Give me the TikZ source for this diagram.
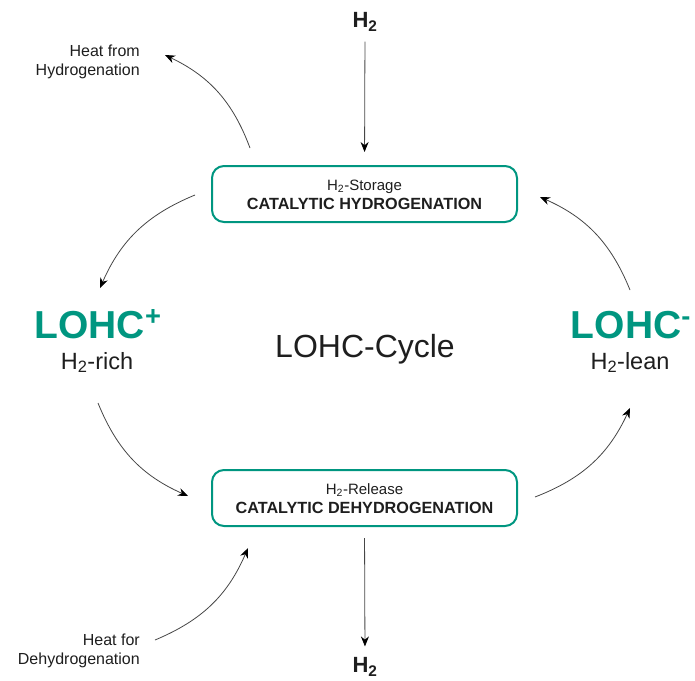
\documentclass[tikz,border=0pt]{standalone}
\usepackage{fontspec}
\setmainfont{Liberation Sans}
\usetikzlibrary{arrows.meta}
\definecolor{tealc}{RGB}{0,150,128}
\definecolor{txtc}{RGB}{30,30,30}
\definecolor{arrc}{RGB}{70,70,70}
\newcommand{\myfs}[1]{\fontsize{#1}{#1}\selectfont}
\begin{document}
\begin{tikzpicture}[x=1pt,y=-1pt,
  procbox/.style={draw=tealc, line width=2pt, rounded corners=12pt,
    minimum width=305pt, minimum height=56pt, inner sep=0pt, align=center, text=txtc},
  lbl/.style={text=txtc, inner sep=0pt},
  big/.style={text=tealc, inner sep=0pt, font=\myfs{39}\bfseries},
  flow/.style={draw=arrc, line width=0.8pt, -{Stealth[length=10pt,width=8pt,color=black]}},
  curv/.style={flow, bend right=22}
]
\useasboundingbox (0,0) rectangle (695,680);

% process boxes
\node[procbox] (hyd) at (364.5,194) {};
\node[lbl, anchor=base, font=\myfs{15}] (hydt) at (364.5,190) {H\textsubscript{2}-Storage};
\node[lbl, anchor=base, font=\myfs{16.2}\bfseries] (hydb) at (364.5,209) {CATALYTIC HYDROGENATION};
\node[procbox] (dehyd) at (364.5,498) {};
\node[lbl, anchor=base, font=\myfs{15}] (dehydt) at (364.5,494) {H\textsubscript{2}-Release};
\node[lbl, anchor=base, font=\myfs{16.2}\bfseries] (dehydb) at (364.5,513) {CATALYTIC DEHYDROGENATION};

% H2 in/out
\node[lbl, font=\myfs{22}\bfseries] (h2in) at (365,22) {H\textsubscript{2}};
\node[lbl, font=\myfs{22}\bfseries] (h2out) at (365,667) {H\textsubscript{2}};
\draw[flow, shorten <=10pt, shorten >=13pt] (h2in.south) -- (hyd.north);
\draw[flow, shorten <=11pt, shorten >=11pt] (dehyd.south) -- (h2out.north);

% LOHC states
\node[big, anchor=base] (lplus) at (98,338) {LOHC\raisebox{3pt}{\textsuperscript{+}}};
\node[lbl, anchor=base, font=\myfs{23.5}] (rich) at (97,369) {H\textsubscript{2}-rich};
\node[big, anchor=base] (lminus) at (631,338) {LOHC\raisebox{3pt}{\textsuperscript{-}}};
\node[lbl, anchor=base, font=\myfs{23.5}] (lean) at (630,369) {H\textsubscript{2}-lean};
\node[lbl, anchor=base, font=\myfs{32}] (cycle) at (365,357) {LOHC-Cycle};

% heat labels
\node[lbl, anchor=base east, align=right, font=\fontsize{16}{19}\selectfont] (heatfrom) at (140,75)
  {Heat from\\Hydrogenation};
\node[lbl, anchor=base east, align=right, font=\fontsize{16}{19}\selectfont] (heatfor) at (140,664)
  {Heat for\\Dehydrogenation};

% curved connectors
\coordinate (c1s) at (250,148); \coordinate (c1e) at (165,55);
\coordinate (c2s) at (195,195); \coordinate (c2e) at (100,288);
\coordinate (c3s) at (630,290); \coordinate (c3e) at (540,197);
\coordinate (c4s) at (98,403);  \coordinate (c4e) at (188,496);
\coordinate (c5s) at (535,497); \coordinate (c5e) at (630,408);
\coordinate (c6s) at (155,640); \coordinate (c6e) at (248,548);
\draw[curv] (c1s) to (c1e);
\draw[curv] (c2s) to (c2e);
\draw[curv] (c3s) to (c3e);
\draw[curv] (c4s) to (c4e);
\draw[curv] (c5s) to (c5e);
\draw[curv] (c6s) to (c6e);
\end{tikzpicture}
\end{document}
